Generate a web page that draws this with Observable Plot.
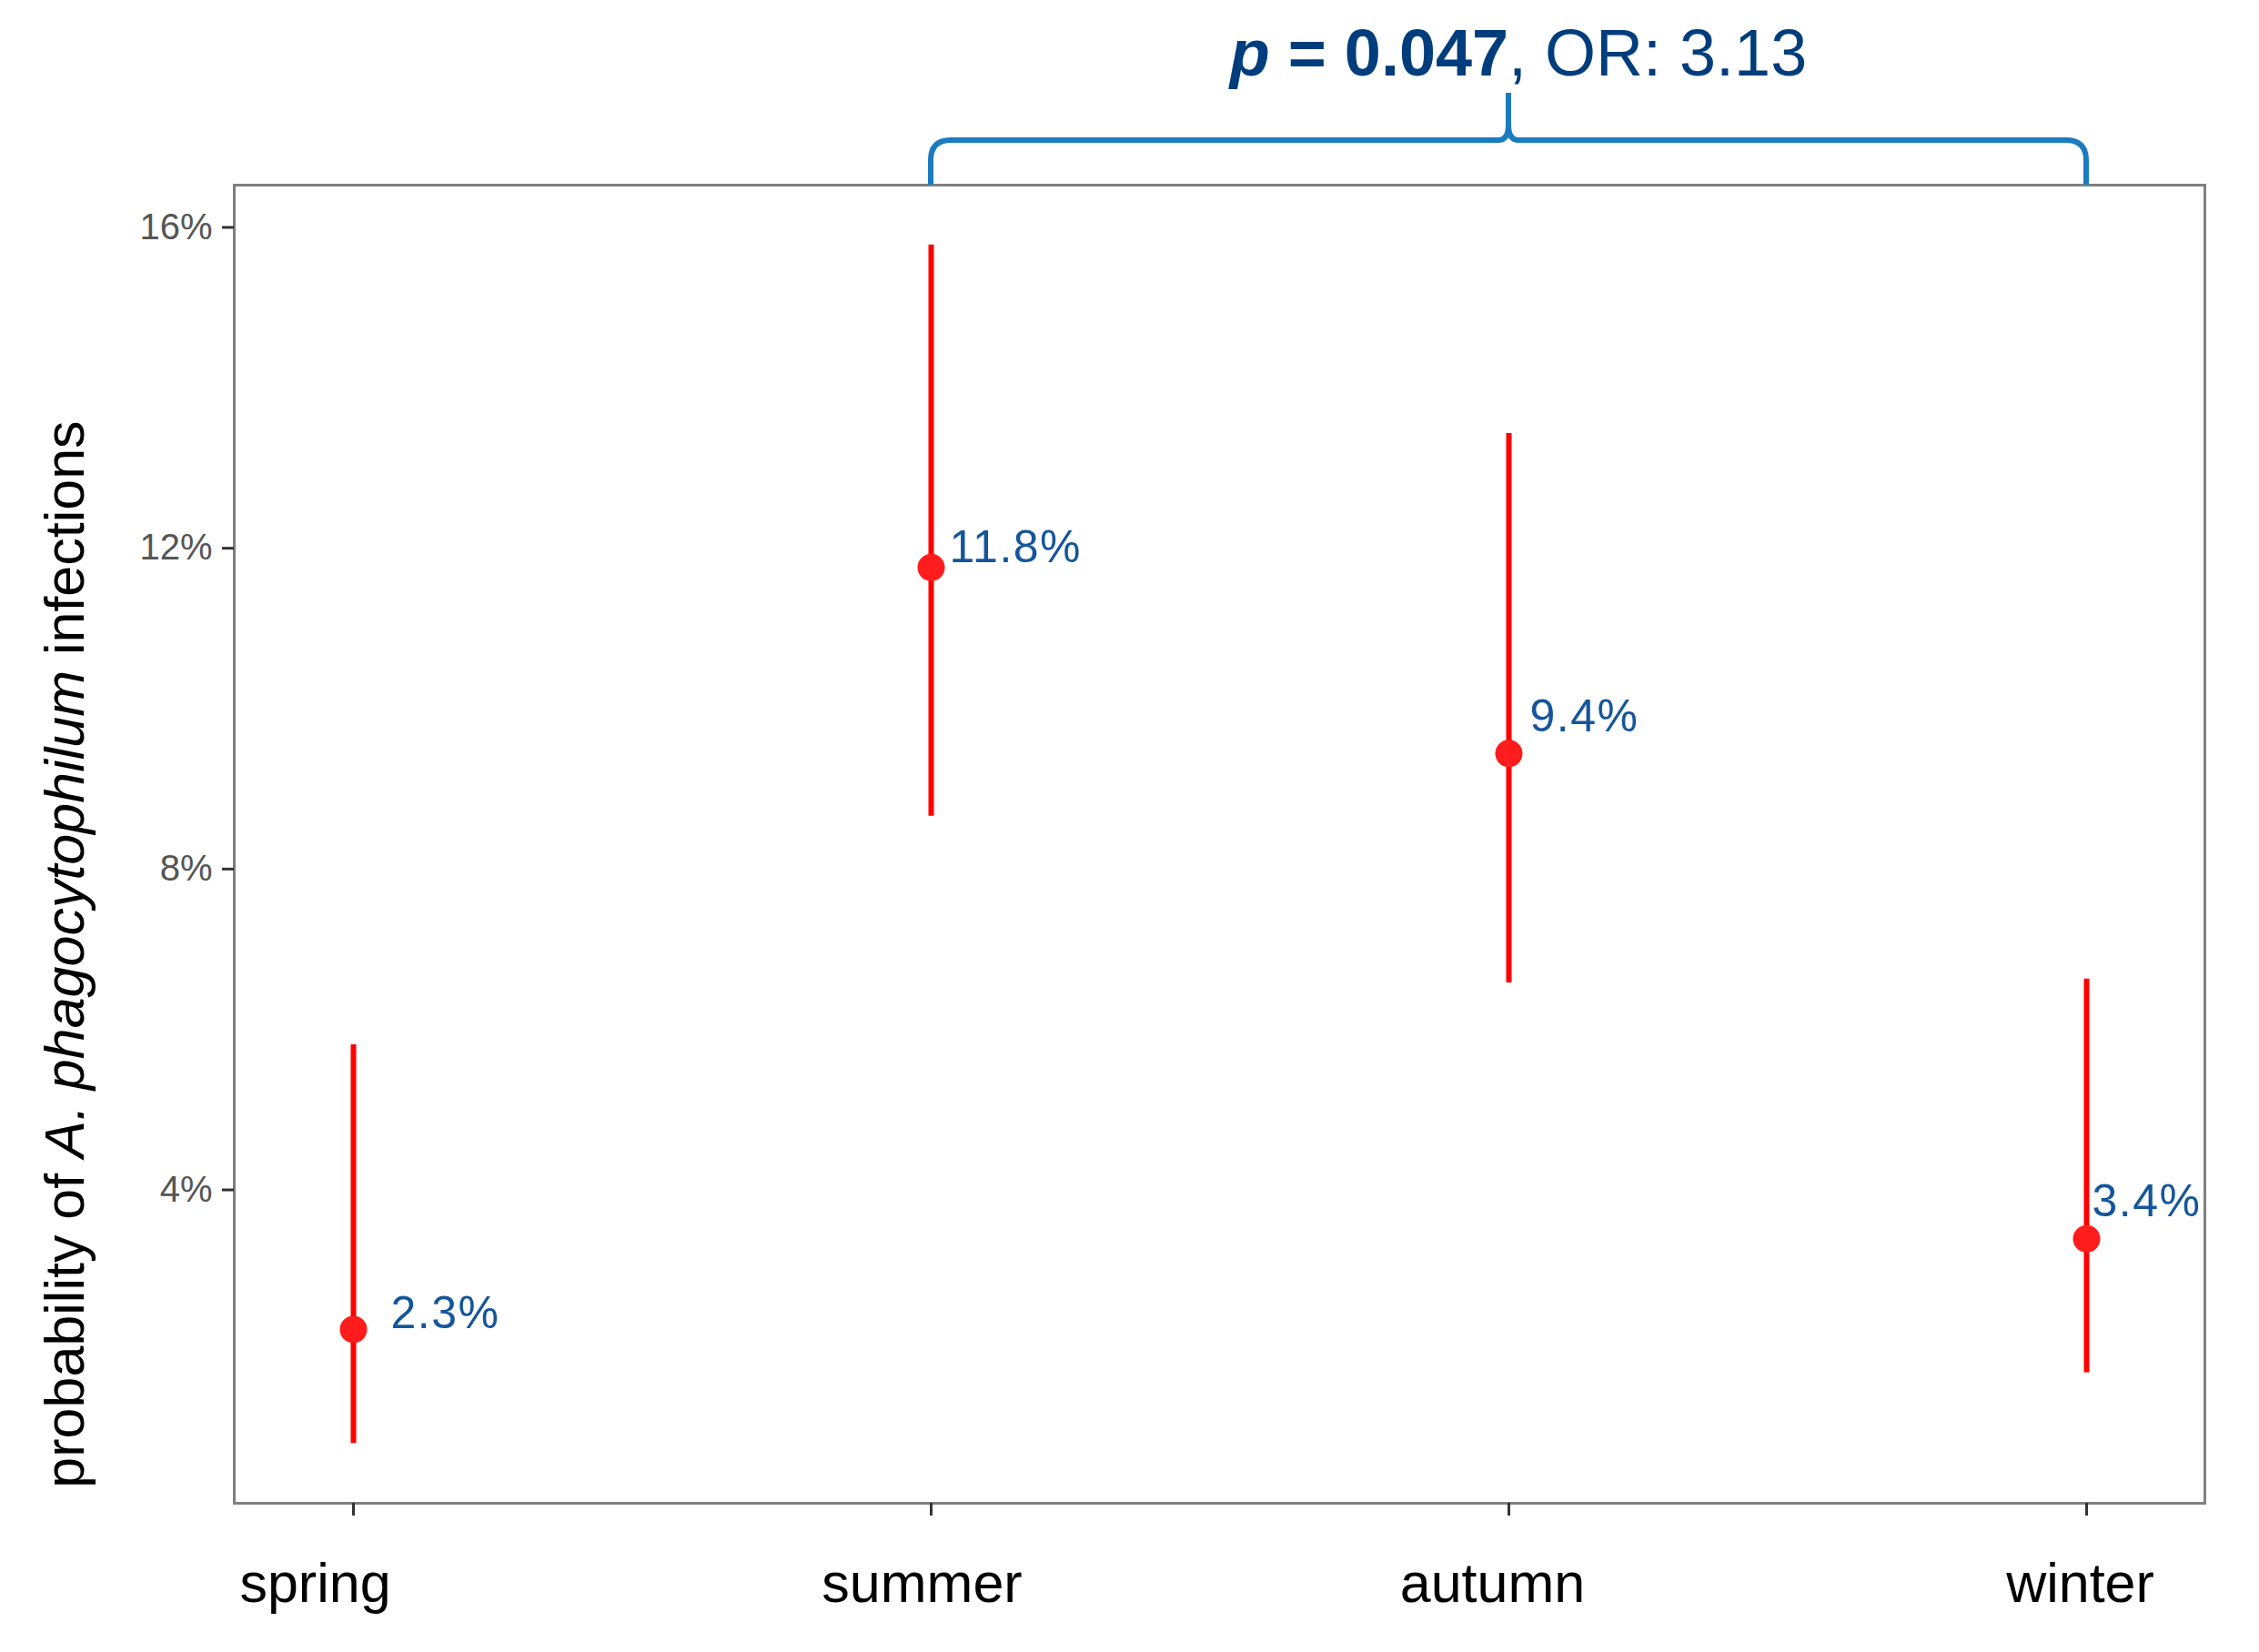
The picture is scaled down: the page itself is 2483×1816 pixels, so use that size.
<!DOCTYPE html>
<html>
<head>
<meta charset="utf-8">
<script src="https://cdn.jsdelivr.net/npm/d3@7"></script>
<script src="https://cdn.jsdelivr.net/npm/@observablehq/plot@0.6"></script>
<style>
  html, body { margin: 0; padding: 0; background: #fff; }
  svg { display: block; }
</style>
</head>
<body>
<div id="chart"></div>
<script>
// ---- data ----
const seasons = ["spring", "summer", "autumn", "winter"];
const estimate = [2.26, 11.76, 9.44, 3.39];      // % probability
const lower = [0.84, 8.66, 6.58, 1.72];          // lower CI, %
const upper = [5.81, 15.78, 13.43, 6.63];        // upper CI, %
const pointLabels = ["2.3%", "11.8%", "9.4%", "3.4%"];
const yTicks = [4, 8, 12, 16];
const yTitle = ["probability of ", "A. phagocytophilum", " infections"];
const annotation = ["p", " = 0.047", ", OR: 3.13"];
const bracketFrom = "summer", bracketTo = "winter", bracketMid = "autumn";

const data = seasons.map((s, i) => ({
  season: s, est: estimate[i], lo: lower[i], hi: upper[i], label: pointLabels[i]
}));

// ggplot-like 5% expansion of the continuous range
const lo = d3.min(lower), hi = d3.max(upper), pad = (hi - lo) * 0.05;

// styling (label nudges, in px)
const labelNudge = {spring: [41, -17], summer: [20, -22], autumn: [23, -40], winter: [6, -41]};
const xLabelShift = [-42, -10, -18, -7];
const FONT = "'Liberation Sans', Arial, Helvetica, sans-serif";

const plot = Plot.plot({
  width: 2483,
  height: 1816,
  marginLeft: 257,
  marginRight: 60,
  marginTop: 203,
  marginBottom: 164,
  style: {fontFamily: FONT, background: "#fff", overflow: "visible"},
  x: {type: "point", domain: seasons, padding: 0.203, label: null},
  y: {domain: [lo - pad, hi + pad], label: null},
  marks: [
    Plot.frame({stroke: "#7f7f7f", strokeWidth: 3}),
    Plot.axisY({ticks: yTicks, tickFormat: d => d + "%", tickSize: 13, tickPadding: 11,
      fontSize: 40, fill: "#555", stroke: "#333", strokeWidth: 3, label: null}),
    Plot.axisX({tickSize: 14, tickFormat: () => "", stroke: "#333", strokeWidth: 3, label: null}),
    ...seasons.map((s, i) => Plot.axisX({ticks: [s], tickSize: 0, tickPadding: 65, fontSize: 61,
      fill: "#000", dx: xLabelShift[i], label: null})),
    Plot.ruleX(data, {x: "season", y1: "lo", y2: "hi", stroke: "#ff0000", strokeWidth: 6}),
    Plot.dot(data, {x: "season", y: "est", r: 15, fill: "#ff1c1c", stroke: "none"}),
    ...seasons.map(s => Plot.text(data.filter(d => d.season === s), {
      x: "season", y: "est", text: "label", textAnchor: "start",
      dx: labelNudge[s][0], dy: labelNudge[s][1],
      fontSize: 50, fill: "#15569a"
    }))
  ]
});

document.getElementById("chart").appendChild(plot);

const svg = d3.select(plot);
// slightly looser spacing of the point labels, as in the reference
svg.selectAll("g[aria-label='text'] text").style("letter-spacing", "1.5px");

// ---- annotations placed with the plot's own scales ----
const xs = plot.scale("x");
const x1 = xs.apply(bracketFrom), xm = xs.apply(bracketMid), x2 = xs.apply(bracketTo);
const yb = 203, yh = 154, yp = 102, r = 22, rm = 11, hm = 17;
const p = d3.path();
p.moveTo(x1, yb);
p.lineTo(x1, yh + r);
p.quadraticCurveTo(x1, yh, x1 + r, yh);
p.lineTo(xm - rm, yh);
p.quadraticCurveTo(xm, yh, xm, yh - hm);
p.lineTo(xm, yp);
p.moveTo(xm, yh - hm);
p.quadraticCurveTo(xm, yh, xm + rm, yh);
p.lineTo(x2 - r, yh);
p.quadraticCurveTo(x2, yh, x2, yh + r);
p.lineTo(x2, yb);
svg.append("path").attr("d", p.toString())
  .attr("fill", "none").attr("stroke", "#1b7bbf").attr("stroke-width", 6)
  .attr("stroke-linejoin", "round").attr("stroke-linecap", "butt");

const t = svg.append("text")
  .attr("x", xm + 11).attr("y", 83)
  .attr("text-anchor", "middle")
  .attr("font-family", FONT).attr("font-size", 72).attr("fill", "#003d7c");
t.append("tspan").attr("font-weight", "bold").attr("font-style", "italic").text(annotation[0]);
t.append("tspan").attr("font-weight", "bold").text(annotation[1]);
t.append("tspan").text(annotation[2]);

const yt = svg.append("text")
  .attr("transform", "translate(92,1049) rotate(-90)")
  .attr("text-anchor", "middle")
  .attr("font-family", FONT).attr("font-size", 61).attr("fill", "#000");
yt.append("tspan").text(yTitle[0]);
yt.append("tspan").attr("font-style", "italic").text(yTitle[1]);
yt.append("tspan").text(yTitle[2]);
</script>
</body>
</html>
